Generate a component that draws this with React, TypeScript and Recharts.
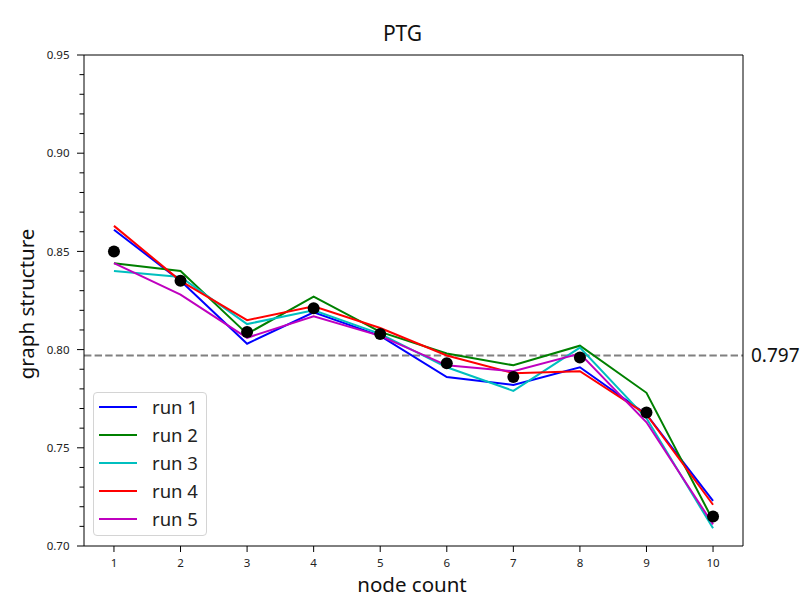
import React from 'react';
import {
  LineChart,
  Line,
  XAxis,
  YAxis,
  ReferenceLine,
  Legend
} from 'recharts';

const nodeCounts = [1, 2, 3, 4, 5, 6, 7, 8, 9, 10];
const run1 = [0.861, 0.835, 0.803, 0.819, 0.807, 0.786, 0.782, 0.791, 0.767, 0.723];
const run2 = [0.844, 0.840, 0.808, 0.827, 0.809, 0.798, 0.792, 0.802, 0.778, 0.713];
const run3 = [0.840, 0.837, 0.813, 0.820, 0.808, 0.791, 0.779, 0.801, 0.765, 0.709];
const run4 = [0.863, 0.835, 0.815, 0.822, 0.811, 0.797, 0.788, 0.789, 0.767, 0.721];
const run5 = [0.844, 0.828, 0.806, 0.817, 0.807, 0.792, 0.789, 0.798, 0.763, 0.711];
const meanScores = [0.850, 0.835, 0.809, 0.821, 0.808, 0.793, 0.786, 0.796, 0.768, 0.715];
const overallMean = 0.797;

const yTicks = [
  0.70, 0.71, 0.72, 0.73, 0.74, 0.75, 0.76, 0.77, 0.78, 0.79, 0.80, 0.81, 0.82,
  0.83, 0.84, 0.85, 0.86, 0.87, 0.88, 0.89, 0.90, 0.91, 0.92, 0.93, 0.94, 0.95
];

const seriesNames = ['run 1', 'run 2', 'run 3', 'run 4', 'run 5'];
const seriesColors = ['#0000ff', '#008000', '#00bfbf', '#ff0000', '#bf00bf'];
const seriesValues = [run1, run2, run3, run4, run5];

const FONT = '"Noto Sans", "Open Sans", sans-serif';

const rows = nodeCounts.map((n, i) => {
  const row: Record<string, number> = { node: n, mean: meanScores[i] };
  seriesValues.forEach((vals, s) => {
    row[`run${s + 1}`] = vals[i];
  });
  return row;
});

const YTick = (props: any) => {
  const { x, y, payload } = props;
  const v = payload.value as number;
  const major = Math.round(v * 100) % 5 === 0;
  return (
    <g>
      <line x1={x - (major ? 7 : 4.5)} x2={x} y1={y} y2={y} stroke="#000" strokeWidth={1} />
      {major && (
        <text x={x - 14.5} y={y} dy="0.36em" textAnchor="end" fontSize={11.5} fill="#222">
          {v.toFixed(2)}
        </text>
      )}
    </g>
  );
};

const XTick = (props: any) => {
  const { x, y, payload } = props;
  return (
    <g>
      <line x1={x} x2={x} y1={y} y2={y + 6} stroke="#000" strokeWidth={1} />
      <text x={x} y={y + 21} textAnchor="middle" fontSize={11.5} fill="#222">
        {payload.value}
      </text>
    </g>
  );
};

const LegendBox = (props: any) => {
  const items = (props.payload || []).filter((p: any) => p.value !== 'mean');
  return (
    <div
      style={{
        width: 114,
        height: 144,
        boxSizing: 'border-box',
        border: '1px solid #d4d4d4',
        borderRadius: 4,
        background: '#fff',
        fontFamily: FONT
      }}
    >
      {items.map((p: any) => (
        <div key={p.value} style={{ display: 'flex', alignItems: 'center', height: 28 }}>
          <span
            style={{ display: 'inline-block', width: 38, height: 2, marginLeft: 5, background: p.color }}
          />
          <span style={{ marginLeft: 15, fontSize: 18.5, lineHeight: 1, color: '#222' }}>
            {p.value}
          </span>
        </div>
      ))}
    </div>
  );
};

export default function App() {
  return (
    <div style={{ position: 'absolute', left: 0, top: 0, width: 809, height: 604, background: '#fff' }}>
      <LineChart
        width={809}
        height={604}
        data={rows}
        margin={{ top: 54, right: 65, bottom: 28, left: 44 }}
        style={{ fontFamily: FONT }}
      >
        <XAxis
          dataKey="node"
          type="number"
          domain={[0.55, 10.45]}
          ticks={nodeCounts}
          interval={0}
          allowDataOverflow
          height={30}
          tickSize={0}
          tickMargin={0}
          tick={<XTick />}
          axisLine={{ stroke: '#000', strokeWidth: 1 }}
        />
        <XAxis
          xAxisId="top"
          orientation="top"
          type="number"
          domain={[0.55, 10.45]}
          height={1}
          tick={false}
          tickLine={false}
          axisLine={{ stroke: '#000', strokeWidth: 1 }}
        />
        <YAxis
          type="number"
          domain={[0.7, 0.95]}
          ticks={yTicks}
          interval={0}
          allowDataOverflow
          width={40}
          tickSize={0}
          tickMargin={0}
          tick={<YTick />}
          axisLine={{ stroke: '#000', strokeWidth: 1 }}
        />
        <YAxis
          yAxisId="right"
          orientation="right"
          type="number"
          domain={[0.7, 0.95]}
          width={1}
          tick={false}
          tickLine={false}
          axisLine={{ stroke: '#000', strokeWidth: 1 }}
        />
        <ReferenceLine
          y={overallMean}
          stroke="#808080"
          strokeWidth={2}
          strokeDasharray="7.4 3.2"
          label={{
            value: overallMean.toFixed(3),
            position: 'right',
            offset: 8,
            fill: '#111',
            fontSize: 19,
            fontFamily: FONT
          }}
        />
        <Line
          dataKey="mean"
          name="mean"
          stroke="none"
          legendType="none"
          dot={{ r: 6, fill: '#000', stroke: 'none' }}
          activeDot={false}
          isAnimationActive={false}
        />
        {seriesNames.map((name, s) => (
          <Line
            key={name}
            type="linear"
            dataKey={`run${s + 1}`}
            name={name}
            stroke={seriesColors[s]}
            strokeWidth={2}
            dot={false}
            activeDot={false}
            isAnimationActive={false}
          />
        ))}
        <Legend
          layout="vertical"
          align="center"
          verticalAlign="middle"
          content={<LegendBox />}
          wrapperStyle={{ left: 93, top: 392, width: 114, height: 144 }}
        />
      </LineChart>
      <svg
        width={809}
        height={604}
        style={{ position: 'absolute', left: 0, top: 0, pointerEvents: 'none', fontFamily: FONT }}
      >
        <text x={402.5} y={41} textAnchor="middle" fontSize={21} fill="#111">
          PTG
        </text>
        <text x={412} y={592} textAnchor="middle" fontSize={20.5} fill="#111">
          node count
        </text>
        <text
          x={0}
          y={0}
          transform="translate(34, 304) rotate(-90)"
          textAnchor="middle"
          fontSize={20.5}
          fill="#111"
        >
          graph structure
        </text>
      </svg>
    </div>
  );
}
